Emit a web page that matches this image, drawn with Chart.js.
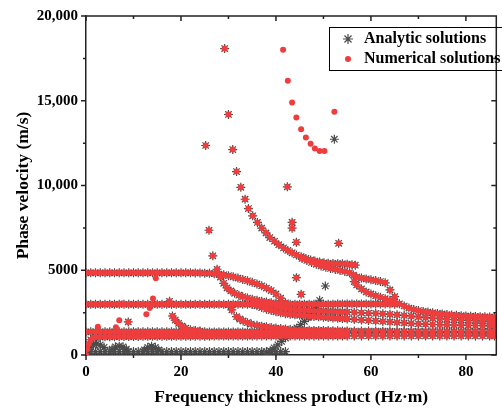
<!DOCTYPE html>
<html>
<head>
<meta charset="utf-8">
<script src="https://cdn.jsdelivr.net/npm/chart.js@4.4.0/dist/chart.umd.min.js"></script>
<style>
  html, body { margin: 0; padding: 0; background: #fff; }
  #chart { display: block; }
</style>
</head>
<body>
<canvas id="chart" width="502" height="409"></canvas>
<script>
// axis ticks
var xTickValues = [0, 10, 20, 30, 40, 50, 60, 70, 80];
var yTickValues = [0, 2500, 5000, 7500, 10000, 12500, 15000, 17500, 20000];

// dispersion modes, [fd (Hz·m), phase velocity (m/s)]
var modeBand4850 = [[0,4850],[1,4850],[2,4850],[3,4850],[4,4850],[5,4850],[6,4850],[7,4850],[8,4850],[9,4850],
  [10,4850],[11,4850],[12,4850],[13,4850],[14,4850],[15,4850],[16,4850],[17,4850],[18,4850],[19,4850],[20,4850],
  [21,4850],[22,4850],[23,4840],[24,4840],[25,4830],[26,4820],[27,4800],[28,4770],[29,4730],[30,4680],[31,4610],
  [32,4540],[33,4460],[34,4380],[35,4290],[36,4190],[37,4080],[38,3950],[39,3800],[40,3600],[41,3350],[42,3080]];

var modeBand3000 = [[0,2990],[1,2990],[2,2990],[3,2990],[4,2990],[5,2990],[6,2990],[7,2990],[8,2990],[9,2990],
  [10,2990],[11,2990],[12,2990],[13,2990],[14,2990],[15,2990],[16,2990],[17,2990],[18,2990],[19,2990],[20,2990],
  [21,2990],[22,2990],[23,2990],[24,2990],[25,2990],[26,2990],[27,2990],[28,2990],[29,2990],[30,2990],[31,3000],
  [32,3000],[33,3000],[34,3000],[35,3000],[36,3000],[37,3000],[38,3000],[39,3000],[40,3000],[41,3000],[42,3000],
  [43,3000],[44,3000],[45,3000],[46,3000],[47,3000],[48,3000],[49,3000],[50,3000],[51,3000],[52,3000],[53,3010],
  [54,3010],[55,3010],[56,3010],[57,3010],[58,3010],[59,3010],[60,3010],[61,3010],[62,3010],[63,3010],[64,3010],[65,3000]];

var modeF = [[0,1370],[1,1370],[2,1370],[3,1370],[4,1370],[5,1370],[6,1370],[7,1370],[8,1370],[9,1370],
  [10,1370],[11,1370],[12,1370],[13,1370],[14,1370],[15,1370],[16,1370],[17,1370],[18,1370],[19,1370],[20,1370],
  [21,1370],[22,1370],[23,1370],[24,1370],[25,1370],[26,1360],[27,1360],[28,1360],[29,1360],[30,1360],[31,1360],
  [32,1360],[33,1360],[34,1360],[35,1360],[36,1360],[37,1360],[38,1360],[39,1360],[40,1360],[41,1360],[42,1360],
  [43,1360],[44,1360],[45,1360],[46,1350],[47,1350],[48,1350],[49,1350],[50,1350],[51,1350],[52,1350],[53,1350],
  [54,1350],[55,1350],[56.5,1340],[58,1340],[59.5,1340],[61,1340],[62.5,1340],[64,1340],[65.5,1340],[67,1340],
  [68.5,1340],[70,1340],[71.5,1340],[73,1340],[74.5,1340],[76,1340],[77.5,1340],[79,1340],[80.5,1340],[82,1340],
  [83.5,1340],[85,1340],[86,1340]];

var modeG = [[0,0],[0.3,350],[0.6,650],[1,900],[1.5,1000],[2,1040],[3,1060],[4,1070],[5,1075],[6,1080],[7,1085],
  [8,1090],[9,1090],[10,1095],[11,1095],[12,1100],[13,1100],[14,1100],[15,1100],[16,1105],[17,1105],[18,1105],
  [19,1105],[20,1110],[21,1110],[22,1110],[23,1110],[24,1110],[25,1110],[26,1110],[27,1115],[28,1115],[29,1115],
  [30,1115],[31,1115],[32,1115],[33,1115],[34,1115],[35,1115],[36,1120],[37,1120],[38,1120],[39,1120],[40,1120],
  [41,1120],[42,1120],[43,1120],[44,1120],[45,1120],[46,1120],[47,1120],[48,1120],[49,1120],[50,1120],[51,1120],
  [52,1120],[53,1120],[54,1120],[55,1120],[56.5,1120],[58,1120],[59.5,1120],[61,1120],[62.5,1120],[64,1120],
  [65.5,1120],[67,1120],[68.5,1120],[70,1120],[71.5,1120],[73,1120],[74.5,1120],[76,1120],[77.5,1120],[79,1120],
  [80.5,1120],[82,1120],[83.5,1120],[85,1120],[86,1120]];

var modeE = [[30,2950],[30.7,2660],[31.7,2260],[32.4,2120],[33.1,2010],[34,1910],[34.8,1830],[36,1750],[37,1700],
  [38,1660],[39,1620],[40,1590],[41,1560],[42,1530],[43,1510],[44,1490],[45,1480],[46,1470],[47,1460],[48,1450],
  [49,1450],[50,1440],[51,1440],[52,1430],[53,1430],[54,1420],[55,1420],[56.5,1415],[58,1410],[59.5,1410],
  [61,1410],[62.5,1405],[64,1405],[65.5,1400],[67,1400],[68.5,1400],[70,1400],[71.5,1400],[73,1400],[74.5,1400],
  [76,1400],[77.5,1400],[79,1400],[80.5,1400],[82,1400],[83.5,1400],[85,1400],[86,1400]];

var modeD1 = [[38,3000],[39,2930],[40,2870],[41,2810],[42,2760],[43,2720],[44,2690],[45,2660],[46,2640],[47,2620],
  [48,2600],[49,2590],[50,2580],[51,2570],[52,2560],[53,2550],[54,2540],[55,2530],[56.5,2510],[58,2490],
  [59.5,2470],[61,2450],[62.5,2430],[64,2400],[65.5,2370],[67,2330],[68.5,2290],[70,2250],[71.5,2210],[73,2170],
  [74.5,2140],[76,2110],[77.5,2080],[79,2060],[80.5,2040],[82,2020],[83.5,2000],[85,1990],[86,1980]];

var modeD2 = [[35,3000],[36,2900],[37,2800],[38,2700],[39,2620],[40,2550],[41,2490],[42,2440],[43,2400],[44,2370],
  [45,2340],[46,2310],[47,2290],[48,2270],[49,2250],[50,2230],[51,2210],[52,2190],[53,2170],[54,2150],[55,2130],
  [56.5,2100],[58,2070],[59.5,2040],[61,2010],[62.5,1980],[64,1950],[65.5,1920],[67,1890],[68.5,1860],[70,1840],
  [71.5,1820],[73,1800],[74.5,1790],[76,1780],[77.5,1770],[79,1760],[80.5,1750],[82,1740],[83.5,1730],[85,1720],
  [86,1720]];

var modeC = [[56.5,4330],[57,4130],[58,3900],[59,3720],[60,3600],[61,3490],[62,3400],[63,3320],[64,3230],
  [65,3140],[66,3020],[67,2890],[68,2770],[69,2690],[70,2620],[71,2570],[72,2530],[73,2490],[74,2450],[75,2420],
  [76,2390],[77,2360],[78,2340],[79,2320],[80,2300],[81,2290],[82,2270],[83,2260],[84,2250],[85,2240],[86,2230]];

var modeM = [[29.2,18080],[30,14190],[30.9,12120],[31.7,10820],[32.6,9890],[33.5,9190],[34.2,8640],[35.1,8210],
  [36.1,7820],[37,7490],[37.9,7200],[38.7,6930],[39.7,6710],[40.6,6510],[41.6,6320],[42.5,6170],[43.4,6030],
  [44.3,5900]];

var modeU = [[45.3,5800],[46.3,5700],[47.3,5610],[48.2,5540],[49.2,5480],[50.1,5440],[51,5410],[52,5400],
  [53,5390],[54,5380],[55,5360],[56,5330],[56.7,5300]];

var modeL = [[45.5,5700],[46.5,5580],[47.5,5460],[48.5,5350],[49.5,5250],[50.5,5170],[51.5,5110],[52.5,5050],
  [53.5,4990],[54.5,4930],[55.5,4850],[56.3,4720],[57,4600],[58,4540],[59,4490],[60,4440],[61,4390],[62,4330],
  [63,4260]];

var modeH2 = [[25.2,12360],[25.9,7360],[26.7,5850],[27.6,5060],[28.3,4600],[29,4230],[29.7,3960],[30.5,3780],
  [31.3,3640],[32.2,3530],[33,3440],[34,3360],[35,3290],[36,3230],[37,3170],[38,3120],[39,3080],[40,3040],[41,3020]];

var modeS = [[18.2,2300],[18.8,2060],[19.5,1870],[20.2,1700],[21,1580],[22,1490],[23,1440],[24,1410]];

var bothIsolated = [[8.9,1950],[17.6,3170],[42.4,9920],[43.4,7830],[43.4,7480],[44.3,6650],[44.3,4560],
  [45.3,3580],[53.2,6590],[64,3840],[65,3440]];

// only the numerical solver found these
var numericalOnly = [[2.5,1670],[6.3,1630],[7,2050],[7.6,3040],[12.7,2400],[13.4,2770],[14.1,3330],[14.7,4530],
  [41.5,18010],[42.5,16180],[43.4,14900],[44.3,14010],[45.3,13320],[46.3,12830],[47.3,12460],[48.2,12180],
  [49.2,12040],[50.2,12040],[52.3,14350]];

// only the analytic solution
var analyticOnly = [[52.3,12730],[50.4,4070],
  [38,100],[38.8,250],[39.6,420],[40.4,600],[41.2,800],[42,1000],[42.8,1200],[43.6,1400],[44.4,1600],[45.2,1800],
  [46,1980],[46.8,2200],[47.6,2450],[48.4,2750],[49.2,3230],
  [0.8,450],[1.5,600],[2.2,650],[3,600],[3.8,450],
  [5.5,350],[6.2,480],[7,520],[7.8,480],[8.5,350],
  [12.3,300],[13,450],[13.8,520],[14.6,450],[15.3,300]];
var analyticLow = [[0,200],[1,200],[2,200],[3,200],[4,200],[5,200],[6,200],[7,200],[8,200],[9,200],[10,200],
  [11,200],[12,200],[13,200],[14,200],[15,200],[16,200],[17,200],[18,200],[19,200],[20,200],[21,200],[22,200],
  [23,200],[24,200],[25,200],[26,200],[27,200],[28,200],[29,200],[30,200],[31,200],[32,200],[33,200],[34,200],
  [35,200],[36,200],[37,200],[38,200],[39,200],[40,200],[41,200],[42,200]];

var sharedModes = [modeBand4850, modeBand3000, modeF, modeG, modeE, modeD1, modeD2, modeC,
  modeM, modeU, modeL, modeH2, modeS, bothIsolated];

function toPoints(list) {
  var out = [];
  list.forEach(function(arr) {
    arr.forEach(function(p) { out.push({x: p[0], y: p[1]}); });
  });
  return out;
}

var analyticData = toPoints(sharedModes.concat([analyticOnly, analyticLow]));
var numericalData = toPoints(sharedModes.concat([numericalOnly]));

var serif = 'Liberation Serif';
var starGrey = '#4a4a4a';
var dotRed = '#ef3d3d';

function commas(v) {
  return String(v).replace(/\B(?=(\d{3})+(?!\d))/g, ',');
}

// top/right frame, inward ticks, minor ticks and the boxed legend
var framePlugin = {
  id: 'frame',
  afterDraw: function(chart) {
    var ctx = chart.ctx, a = chart.chartArea;
    var xs = chart.scales.x, ys = chart.scales.y;
    ctx.save();
    ctx.strokeStyle = '#222';
    ctx.lineWidth = 1.5;
    ctx.beginPath();
    ctx.moveTo(a.left, a.top);
    ctx.lineTo(a.right, a.top);
    ctx.lineTo(a.right, a.bottom);
    xTickValues.forEach(function(v) {
      var px = xs.getPixelForValue(v);
      var len = v % 20 === 0 ? 5 : 3;
      ctx.moveTo(px, a.top); ctx.lineTo(px, a.top + len);
      ctx.moveTo(px, a.bottom); ctx.lineTo(px, a.bottom + len);
    });
    yTickValues.forEach(function(v) {
      var py = ys.getPixelForValue(v);
      var len = v % 5000 === 0 ? 5 : 3;
      ctx.moveTo(a.right, py); ctx.lineTo(a.right - len, py);
      ctx.moveTo(a.left, py); ctx.lineTo(a.left - len, py);
    });
    ctx.stroke();

    // legend
    ctx.lineWidth = 1;
    ctx.strokeStyle = '#000';
    ctx.strokeRect(329.5, 27.5, 200, 43);
    ctx.strokeStyle = starGrey;
    ctx.lineWidth = 1.2;
    var sx = 348, sy = 39, r = 5;
    ctx.beginPath();
    ctx.moveTo(sx - r, sy); ctx.lineTo(sx + r, sy);
    ctx.moveTo(sx, sy - r); ctx.lineTo(sx, sy + r);
    var d = r * Math.SQRT1_2;
    ctx.moveTo(sx - d, sy - d); ctx.lineTo(sx + d, sy + d);
    ctx.moveTo(sx - d, sy + d); ctx.lineTo(sx + d, sy - d);
    ctx.stroke();
    ctx.fillStyle = dotRed;
    ctx.beginPath();
    ctx.arc(348, 59, 3, 0, Math.PI * 2);
    ctx.fill();
    ctx.fillStyle = '#000';
    ctx.font = 'bold 16px "' + serif + '"';
    ctx.textBaseline = 'middle';
    ctx.textAlign = 'left';
    ctx.fillText('Analytic solutions', 364, 39);
    ctx.fillText('Numerical solutions', 364, 59);
    ctx.restore();
  }
};

var chart = new Chart(document.getElementById('chart').getContext('2d'), {
  type: 'scatter',
  data: {
    datasets: [{
      label: 'Analytic solutions',
      data: analyticData,
      pointStyle: 'star',
      pointRadius: 4.5,
      borderColor: starGrey,
      borderWidth: 1.2,
      backgroundColor: 'rgba(0,0,0,0)',
      order: 2
    }, {
      label: 'Numerical solutions',
      data: numericalData,
      pointStyle: 'circle',
      pointRadius: 3,
      borderWidth: 0,
      backgroundColor: dotRed,
      order: 1
    }]
  },
  options: {
    responsive: false,
    animation: false,
    layout: { padding: { top: 16, right: 1, left: 0, bottom: 0 } },
    plugins: {
      legend: { display: false },
      tooltip: { enabled: false }
    },
    scales: {
      x: {
        type: 'linear',
        min: 0,
        max: 86.4,
        afterBuildTicks: function(s) { s.ticks = xTickValues.map(function(v) { return {value: v}; }); },
        afterFit: function(s) { s.height = 54; },
        grid: { display: true, drawOnChartArea: false, drawTicks: true, tickLength: 5, color: 'rgba(0,0,0,0)' },
        border: { display: true, color: '#222', width: 1.5 },
        ticks: {
          autoSkip: false, maxRotation: 0, padding: 3, color: '#000',
          font: { family: serif, size: 15, weight: 'bold' },
          callback: function(v) { return v % 20 === 0 ? String(v) : ''; }
        },
        title: {
          display: true, text: 'Frequency thickness product (Hz·m)', color: '#000',
          font: { family: serif, size: 17.5, weight: 'bold' },
          padding: { top: 0, bottom: 1 }
        }
      },
      y: {
        type: 'linear',
        min: 0,
        max: 20000,
        afterBuildTicks: function(s) { s.ticks = yTickValues.map(function(v) { return {value: v}; }); },
        afterFit: function(s) { s.width = 86; },
        grid: { display: true, drawOnChartArea: false, drawTicks: true, tickLength: 5, color: 'rgba(0,0,0,0)' },
        border: { display: true, color: '#222', width: 1.5 },
        ticks: {
          autoSkip: false, padding: 3, color: '#000',
          font: { family: serif, size: 15, weight: 'bold' },
          callback: function(v) { return v % 5000 !== 0 ? '' : (v >= 10000 ? commas(v) : String(v)); }
        },
        title: {
          display: true, text: 'Phase velocity (m/s)', color: '#000',
          font: { family: serif, size: 17.5, weight: 'bold' },
          padding: { top: 12.5, bottom: 0 }
        }
      }
    }
  },
  plugins: [framePlugin]
});
</script>
</body>
</html>
